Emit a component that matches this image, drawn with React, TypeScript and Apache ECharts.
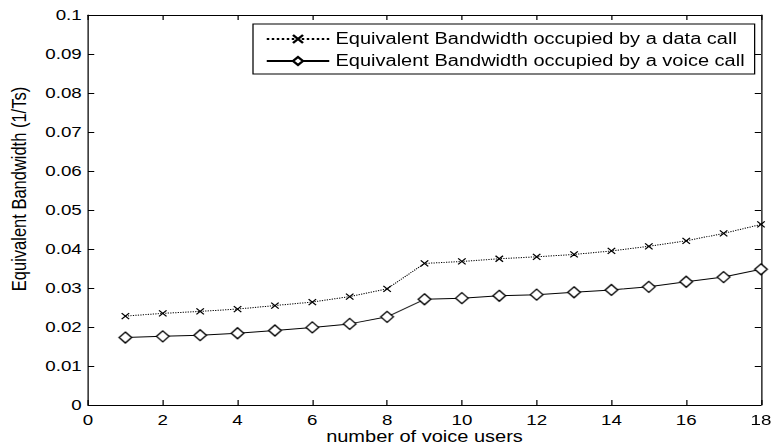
import React, { useEffect, useRef } from "react";
import * as echarts from "echarts";

const users = [1, 2, 3, 4, 5, 6, 7, 8, 9, 10, 11, 12, 13, 14, 15, 16, 17, 18];
const dataCall = [
  0.0228, 0.0235, 0.024, 0.0246, 0.0255, 0.0264, 0.0278, 0.0298, 0.0363,
  0.0368, 0.0375, 0.038, 0.0386, 0.0395, 0.0407, 0.0421, 0.044, 0.0463,
];
const voiceCall = [
  0.0173, 0.0176, 0.0179, 0.0184, 0.0191, 0.0199, 0.0208, 0.0226, 0.0271,
  0.0274, 0.028, 0.0283, 0.0289, 0.0295, 0.0303, 0.0316, 0.0328, 0.0348,
];
const seriesNames = [
  "Equivalent Bandwidth occupied by a data call",
  "Equivalent Bandwidth occupied by a voice call",
];
const xName = "number of voice users";
const yName = "Equivalent Bandwidth (1/Ts)";

const SX = 1.25;
const W = 771;
const H = 447;
const IW = W / SX;
const FONT = "'Liberation Sans', Arial, Helvetica, sans-serif";

export default function App() {
  const ref = useRef<HTMLDivElement>(null);
  useEffect(() => {
    if (!ref.current) return;
    const chart = echarts.init(ref.current, null, {
      renderer: "svg",
      width: IW,
      height: H,
    });
    const axisCommon = {
      axisLine: { show: true, onZero: false, lineStyle: { color: "#000", width: 1 } },
      axisTick: { show: true, inside: true, length: 5, lineStyle: { color: "#000" } },
      splitLine: { show: false },
    };
    chart.setOption({
      animation: false,
      backgroundColor: "#fff",
      textStyle: { fontFamily: FONT },
      grid: {
        left: 70.4,
        right: 8,
        top: 15,
        bottom: 42,
        containLabel: false,
        outerBoundsMode: "none",
      },
      legend: {
        orient: "vertical",
        left: 202.4,
        top: 24,
        width: 400,
        padding: [7, 8, 5, 10],
        itemGap: 6,
        itemWidth: 50,
        itemHeight: 10,
        backgroundColor: "#fff",
        borderColor: "#000",
        borderWidth: 1,
        borderRadius: 0,
        textStyle: { fontSize: 16, color: "#000", fontFamily: FONT, lineHeight: 16 },
        data: seriesNames,
      },
      xAxis: [
        {
          type: "value",
          min: 0,
          max: 18,
          interval: 2,
          position: "bottom",
          name: xName,
          nameLocation: "middle",
          nameGap: 24,
          nameMoveOverlap: false,
          nameTextStyle: {
            fontSize: 16,
            color: "#000",
            fontFamily: FONT,
            lineHeight: 16,
            verticalAlign: "top",
          },
          axisLabel: { fontSize: 15, color: "#000", margin: 8, fontFamily: FONT },
          ...axisCommon,
        },
        {
          type: "value",
          min: 0,
          max: 18,
          interval: 2,
          position: "top",
          axisLabel: { show: false },
          ...axisCommon,
        },
      ],
      yAxis: [
        {
          type: "value",
          min: 0,
          max: 0.1,
          interval: 0.01,
          position: "left",
          axisLabel: {
            fontSize: 15,
            color: "#000",
            margin: 5,
            fontFamily: FONT,
            formatter: (v: number) => String(parseFloat(v.toFixed(2))),
          },
          ...axisCommon,
        },
        {
          type: "value",
          min: 0,
          max: 0.1,
          interval: 0.01,
          position: "right",
          axisLabel: { show: false },
          ...axisCommon,
        },
      ],
      graphic: [
        {
          type: "text",
          x: 15,
          y: 189,
          rotation: Math.PI / 2,
          style: {
            text: yName,
            font: `16.5px ${FONT}`,
            fill: "#000",
            textAlign: "center",
            textVerticalAlign: "middle",
          },
        },
      ],
      series: [
        {
          name: seriesNames[0],
          type: "line",
          xAxisIndex: 0,
          yAxisIndex: 0,
          data: users.map((u, i) => [u, dataCall[i]]),
          symbol: "path://M0,0L10,10M10,0L0,10",
          symbolSize: 6,
          showAllSymbol: true,
          lineStyle: { color: "#000", width: 1, type: "dotted" },
          itemStyle: { color: "#000", borderColor: "#000", borderWidth: 1.1 },
          z: 2,
        },
        {
          name: seriesNames[1],
          type: "line",
          xAxisIndex: 0,
          yAxisIndex: 0,
          data: users.map((u, i) => [u, voiceCall[i]]),
          symbol: "diamond",
          symbolSize: [10, 11],
          showAllSymbol: true,
          lineStyle: { color: "#000", width: 1, type: "solid" },
          itemStyle: { color: "#fff", borderColor: "#000", borderWidth: 1.2 },
          z: 3,
        },
      ],
    });
    return () => chart.dispose();
  }, []);
  return (
    <div
      style={{
        position: "fixed",
        left: 0,
        top: 0,
        width: W,
        height: H,
        overflow: "hidden",
        background: "#fff",
      }}
    >
      <div
        ref={ref}
        style={{
          width: IW,
          height: H,
          transform: `scaleX(${SX})`,
          transformOrigin: "0 0",
        }}
      />
    </div>
  );
}
